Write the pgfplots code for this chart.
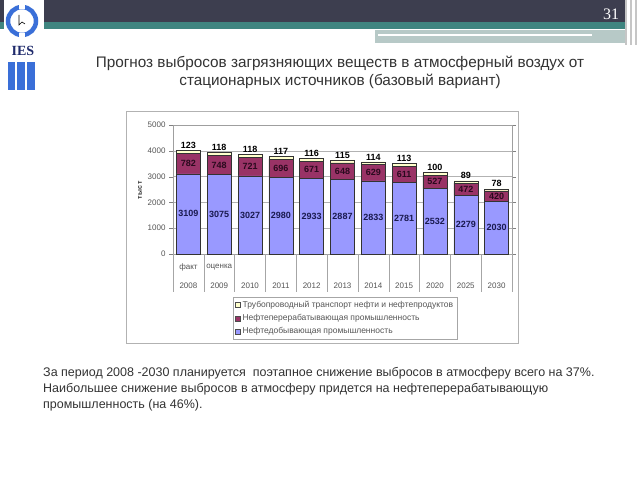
\documentclass[border=0pt]{standalone}
\usepackage{pgfplots}
\pgfplotsset{compat=1.18}
\usepackage{pgfplotstable}
\usepackage{fontspec}
\setmainfont{Liberation Sans}
\newfontfamily\seriffont{Liberation Serif}
\definecolor{cblue}{HTML}{9999FF}
\definecolor{cmaroon}{HTML}{993366}
\definecolor{cyellow}{HTML}{FFFFCC}
\definecolor{cband}{HTML}{3D3E4F}
\definecolor{cteal}{HTML}{3F8580}
\definecolor{clight}{HTML}{B7C9C7}
\definecolor{clogo}{HTML}{3A6FD8}
\definecolor{cnavy}{HTML}{1F2A6B}
\definecolor{txt}{HTML}{333333}
\definecolor{tick}{HTML}{555555}
\definecolor{bluelab}{HTML}{1A1A50}
\definecolor{marlab}{HTML}{2A0A1E}

\pgfplotstableread{
x blue maroon yellow
0 3109 782 123
1 3075 748 118
2 3027 721 118
3 2980 696 117
4 2933 671 116
5 2887 648 115
6 2833 629 114
7 2781 611 113
8 2532 527 100
9 2279 472 89
10 2030 420 78
}\data
\pgfplotstablecreatecol[expr={\thisrow{blue}/2}]{bmid}\data
\pgfplotstablecreatecol[expr={\thisrow{blue}+\thisrow{maroon}/2}]{mmid}\data
\pgfplotstablecreatecol[expr={\thisrow{blue}+\thisrow{maroon}+\thisrow{yellow}}]{top}\data

\begin{document}
\begin{tikzpicture}
\useasboundingbox (0,0) rectangle (640pt,480pt);
\fill[white] (0,0) rectangle (640pt,480pt);
% top band
\fill[cband] (0,458pt) rectangle (625pt,480pt);
\fill[cteal] (0,451pt) rectangle (625pt,458pt);
\fill[clight] (375pt,437pt) rectangle (625pt,450pt);
\draw[white, line width=1.5pt] (378pt,445pt) -- (592pt,445pt);
\foreach \xx in {626,631,636}{\draw[gray!45, line width=1.5pt] (\xx pt,435pt) -- (\xx pt,480pt);}
% logo
\fill[white] (4pt,422pt) rectangle (44pt,480pt);
\draw[clogo, line width=4.5pt] (22pt,459pt) circle (14pt);
\fill[white] (19pt,471pt) rectangle (25pt,478pt);
\fill[white] (19pt,440pt) rectangle (25pt,447pt);
\draw[black, line width=0.6pt] (19pt,465pt) -- (19pt,455pt) -- (22pt,458pt) -- (25pt,456pt);
\node[font=\seriffont\bfseries\fontsize{14}{14}\selectfont, text=cnavy] at (23pt,429pt) {IES};
\fill[clogo] (8pt,390pt) rectangle (15pt,418pt);
\fill[clogo] (17pt,390pt) rectangle (25pt,418pt);
\fill[clogo] (27pt,390pt) rectangle (35pt,418pt);
% page number
\node[text=white, font=\seriffont\fontsize{16}{16}\selectfont] at (611pt,466pt) {31};
% title
\node[align=center, text=txt, font=\fontsize{15.3}{18}\selectfont] at (340pt,408pt)
  {Прогноз выбросов загрязняющих веществ в атмосферный воздух от\\стационарных источников (базовый вариант)};
% bottom text
\node[anchor=north west, align=left, inner sep=0pt, text=txt, font=\fontsize{12.5}{16}\selectfont] at (43pt,113pt)
  {За период 2008 -2030 планируется \ поэтапное снижение выбросов в атмосферу всего на 37\%.\\
   Наибольшее снижение выбросов в атмосферу придется на нефтеперерабатывающую\\
   промышленность (на 46\%).};
% chart frame
\draw[gray!60] (126pt,137pt) rectangle (518pt,369pt);
\node[rotate=90, font=\bfseries\fontsize{7}{8}\selectfont, text=txt] at (140pt,290pt) {тыс т};

\begin{axis}[
  at={(173pt,226pt)}, anchor=south west, scale only axis,
  width=339pt, height=129pt,
  xmin=-0.5, xmax=10.5, ymin=0, ymax=5000,
  ybar stacked, bar width=24pt,
  ytick={0,1000,2000,3000,4000,5000},
  yticklabels={0,1000,2000,3000,4000,5000},
  xtick={0,...,10},
  xticklabels={2008,2009,2010,2011,2012,2013,2014,2015,2020,2025,2030},
  x tick style={draw=none},
  y tick style={gray},
  tick align=outside, major tick length=4pt,
  ymajorgrids, grid style={gray!60},
  axis line style={gray!75},
  ticklabel style={font=\fontsize{8}{9}\selectfont, text=tick},
  xticklabel style={yshift=-21pt},
  clip=false,
  reverse legend,
  legend style={at={(0.177,-0.333)}, anchor=north west, draw=gray!70,
    font=\fontsize{8.5}{10}\selectfont, text=tick, row sep=1.5pt,
    cells={anchor=west}, inner sep=2pt},
  legend image code/.code={\draw[#1,draw=black!70] (0pt,-2.5pt) rectangle (5pt,2.5pt);},
]
\addplot[fill=cblue, draw=black!80, line width=0.4pt] table[x=x,y=blue]{\data};
\addlegendentry{Нефтедобывающая промышленность}
\addplot[fill=cmaroon, draw=black!80, line width=0.4pt] table[x=x,y=maroon]{\data};
\addlegendentry{Нефтеперерабатывающая промышленность}
\addplot[fill=cyellow, draw=black!80, line width=0.4pt] table[x=x,y=yellow]{\data};
\addlegendentry{Трубопроводный транспорт нефти и нефтепродуктов}
\pgfplotsinvokeforeach{-0.5,0.5,...,10.5}{\draw[gray!70] (axis cs:#1,0) -- ([yshift=-38pt]axis cs:#1,0);}
\node[font=\fontsize{8}{9}\selectfont, text=tick] at (axis cs:0,0) [yshift=-13pt] {факт};
\node[font=\fontsize{8}{9}\selectfont, text=tick] at (axis cs:1,0) [yshift=-13pt] {оценка};
\end{axis}

\begin{axis}[
  at={(173pt,226pt)}, anchor=south west, scale only axis,
  width=339pt, height=129pt,
  xmin=-0.5, xmax=10.5, ymin=0, ymax=5000,
  hide axis, clip=false,
]
\addplot[draw=none, mark=none, nodes near coords, point meta=explicit symbolic,
  every node near coord/.style={anchor=center, font=\bfseries\fontsize{9}{10}\selectfont, text=bluelab}]
  table[x=x,y=bmid,meta=blue]{\data};
\addplot[draw=none, mark=none, nodes near coords, point meta=explicit symbolic,
  every node near coord/.style={anchor=center, font=\bfseries\fontsize{9}{10}\selectfont, text=marlab}]
  table[x=x,y=mmid,meta=maroon]{\data};
\addplot[draw=none, mark=none, nodes near coords, point meta=explicit symbolic,
  every node near coord/.style={anchor=south, inner sep=1.5pt, font=\bfseries\fontsize{9}{10}\selectfont, text=black}]
  table[x=x,y=top,meta=yellow]{\data};
\end{axis}
\end{tikzpicture}
\end{document}
